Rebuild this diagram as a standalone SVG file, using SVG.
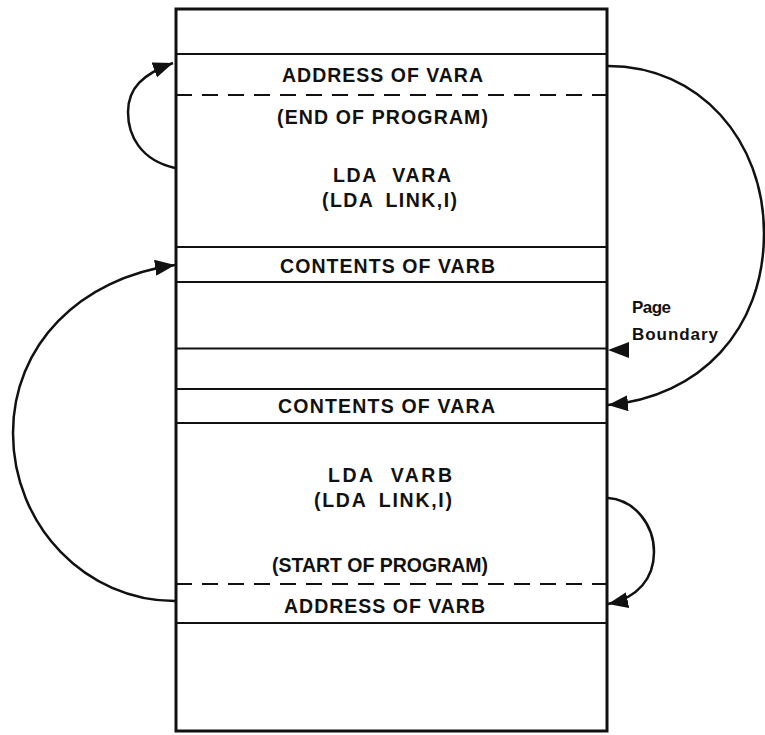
<svg xmlns="http://www.w3.org/2000/svg" width="765" height="735" viewBox="0 0 765 735">
<style>
  .lbl { font-family: "Liberation Sans", Arial, Helvetica, sans-serif; font-size: 19.5px; font-weight: bold; fill: #111; }
  .ws1 { word-spacing: 8px; }
  .ws2 { word-spacing: 5px; }
  .sm { font-family: "Liberation Sans", Arial, Helvetica, sans-serif; font-size: 17px; font-weight: bold; fill: #111; }
  .edge { fill: none; stroke: #111; stroke-width: 3; }
  .div { stroke: #111; stroke-width: 2; }
  .dash { stroke: #111; stroke-width: 2; stroke-dasharray: 16 10; }
  .conn { fill: none; stroke: #111; stroke-width: 2.5; }
</style>
<defs>
  <marker id="ah" markerUnits="userSpaceOnUse" markerWidth="20" markerHeight="16" refX="20" refY="8" orient="auto">
    <path d="M0,0 L20,8 L0,16 z" fill="#111"/>
  </marker>
</defs>
<rect width="765" height="735" fill="#fff"/>

<g id="memory">
  <rect class="edge" x="176" y="9" width="431" height="722"/>
  <line class="div" x1="176" y1="54" x2="607" y2="54"/>
  <line class="dash" x1="176" y1="95" x2="607" y2="95"/>
  <line class="div" x1="176" y1="247" x2="607" y2="247"/>
  <line class="div" x1="176" y1="282" x2="607" y2="282"/>
  <line class="div" x1="176" y1="348.5" x2="607" y2="348.5"/>
  <line class="div" x1="176" y1="389" x2="607" y2="389"/>
  <line class="div" x1="176" y1="423" x2="607" y2="423"/>
  <line class="dash" x1="176" y1="584" x2="607" y2="584"/>
  <line class="div" x1="176" y1="623" x2="607" y2="623"/>
</g>

<g id="address-of-vara">
  <text class="lbl" x="282" y="82" textLength="201" lengthAdjust="spacing">ADDRESS OF VARA</text>
</g>
<g id="end-of-program">
  <text class="lbl" x="277" y="124" textLength="211" lengthAdjust="spacing">(END OF PROGRAM)</text>
</g>
<g id="lda-vara">
  <text class="lbl ws1" x="333" y="182" textLength="118" lengthAdjust="spacing">LDA VARA</text>
  <text class="lbl ws2" x="322" y="207" textLength="135" lengthAdjust="spacing">(LDA LINK,I)</text>
</g>
<g id="contents-of-varb">
  <text class="lbl" x="280" y="273" textLength="215" lengthAdjust="spacing">CONTENTS OF VARB</text>
</g>
<g id="contents-of-vara">
  <text class="lbl" x="278" y="413" textLength="217" lengthAdjust="spacing">CONTENTS OF VARA</text>
</g>
<g id="lda-varb">
  <text class="lbl ws1" x="328" y="482" textLength="124" lengthAdjust="spacing">LDA VARB</text>
  <text class="lbl ws2" x="314" y="507" textLength="138" lengthAdjust="spacing">(LDA LINK,I)</text>
</g>
<g id="start-of-program">
  <text class="lbl" x="272" y="572" textLength="216" lengthAdjust="spacing">(START OF PROGRAM)</text>
</g>
<g id="address-of-varb">
  <text class="lbl" x="284" y="613" textLength="201" lengthAdjust="spacing">ADDRESS OF VARB</text>
</g>
<g id="page-boundary">
  <text class="sm" x="632" y="313" textLength="39" lengthAdjust="spacing">Page</text>
  <text class="sm" x="632" y="340" textLength="86" lengthAdjust="spacing">Boundary</text>
  <polygon points="608,350 629,342 629,358" fill="#111"/>
</g>

<g id="connectors">
  <path class="conn" marker-end="url(#ah)" d="M175,168 C140,160 128,135 128,112 C128,88 143,74 173,63"/>
  <path class="conn" marker-end="url(#ah)" d="M608,66 C700,66 764,141 764,233 C764,330 700,397 608,405"/>
  <path class="conn" marker-end="url(#ah)" d="M175,601 C86,601 13,526 13,433 C13,345 80,278 175,265"/>
  <path class="conn" marker-end="url(#ah)" d="M608,498 C635,500 654,525 654,552 C654,578 638,598 608,604"/>
</g>
</svg>
